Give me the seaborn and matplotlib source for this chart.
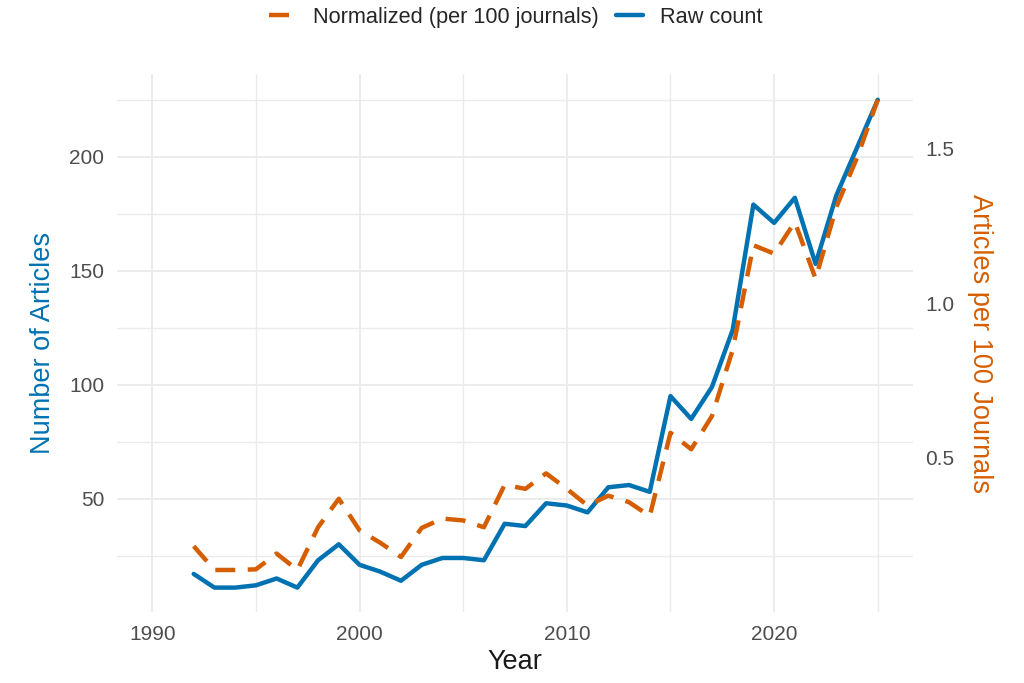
import matplotlib
matplotlib.use("Agg")
import matplotlib.pyplot as plt
import seaborn as sns
import pandas as pd
from matplotlib.ticker import FixedLocator, MultipleLocator
from matplotlib.lines import Line2D

# ---------------- data ----------------
years = list(range(1992, 2026))
raw_count = [17, 11, 11, 12, 15, 11, 23, 30, 21, 18, 14, 21, 24, 24, 23,
             39, 38, 48, 47, 44, 55, 56, 53, 95, 85, 99, 124, 179, 171, 182,
             153, 183, 204, 225]
normalized = [0.215, 0.138, 0.138, 0.140, 0.191, 0.138, 0.276, 0.368, 0.266,
              0.226, 0.180, 0.274, 0.304, 0.298, 0.276, 0.413, 0.400, 0.450,
              0.400, 0.346, 0.378, 0.357, 0.312, 0.581, 0.528, 0.635, 0.849,
              1.187, 1.160, 1.262, 1.079, 1.310, 1.470, 1.657]
x_ticks = [1990, 2000, 2010, 2020]
left_ticks = [50, 100, 150, 200]
right_ticks = [0.5, 1.0, 1.5]
legend_labels = ["Normalized (per 100 journals)", "Raw count"]

BLUE = "#0072B2"
ORANGE = "#D55E00"
TICK_C = "#4D4D4D"
GRID_C = "#EBEBEB"

scale = max(raw_count) / max(normalized)

sns.set_theme(style="white")
plt.rcParams['font.family'] = ['Liberation Sans', 'DejaVu Sans']

df = pd.DataFrame({"Year": years, "Raw": raw_count, "Norm": normalized})

W, H = 1024, 683
fig = plt.figure(figsize=(W / 100, H / 100), dpi=100)
L, R, T, B = 117, 913, 74, 612
ax = fig.add_axes([L / W, 1 - B / H, (R - L) / W, (B - T) / H])

sns.lineplot(data=df, x="Year", y="Raw", ax=ax, color=BLUE, linewidth=3.2)

ax.set_xlim(1988.3, 2026.7)
ax.set_ylim(0.3, 236.3)

ax2 = ax.twinx()
sns.lineplot(data=df, x="Year", y="Norm", ax=ax2, color=ORANGE, linewidth=3.2)
ax2.lines[0].set_dashes((4.5, 2.8))
ax2.set_ylim(ax.get_ylim()[0] / scale, ax.get_ylim()[1] / scale)
ax2.set_xlim(ax.get_xlim())

# grid & ticks
ax.xaxis.set_major_locator(FixedLocator(x_ticks))
ax.xaxis.set_minor_locator(MultipleLocator(5))
ax.yaxis.set_major_locator(FixedLocator(left_ticks))
ax.yaxis.set_minor_locator(MultipleLocator(25))
ax.grid(which="major", color=GRID_C, linewidth=1.3)
ax.grid(which="minor", color=GRID_C, linewidth=1.0)
ax.set_axisbelow(True)
ax2.yaxis.set_major_locator(FixedLocator(right_ticks))
ax2.yaxis.set_minor_locator(FixedLocator([]))
ax2.grid(False)

for a in (ax, ax2):
    for s in a.spines.values():
        s.set_visible(False)
    a.set_xlabel("")
    a.set_ylabel("")

ax.tick_params(axis="both", which="both", length=0, labelsize=15,
               labelcolor=TICK_C, pad=9)
ax2.tick_params(axis="y", which="both", length=0, labelsize=15,
                labelcolor=TICK_C, pad=9)
ax.set_yticklabels([str(v) for v in left_ticks])
ax2.set_yticklabels([f"{v:.1f}" for v in right_ticks])
ax.set_xticklabels([str(v) for v in x_ticks])

# axis titles
cy = 1 - 343 / H
fig.text(43 / W, cy, "Number of Articles", color=BLUE, fontsize=19.5,
         rotation=90, ha="center", va="center")
fig.text(980 / W, cy, "Articles per 100 Journals", color=ORANGE,
         fontsize=19.5, rotation=270, ha="center", va="center")
fig.text(515 / W, 1 - 662 / H, "Year", color="#1A1A1A", fontsize=19.5,
         ha="center", va="center")

# legend
handles = [Line2D([0], [0], color=ORANGE, lw=3.2, linestyle=(0, (4.5, 12))),
           Line2D([0], [0], color=BLUE, lw=3.2)]
fig.legend(handles, legend_labels, loc="center", bbox_to_anchor=(0.504, 0.975),
           ncol=2, frameon=False, fontsize=15.7, handlelength=1.2,
           handletextpad=0.82, columnspacing=0.8)

fig.savefig("out.png", dpi=100)
